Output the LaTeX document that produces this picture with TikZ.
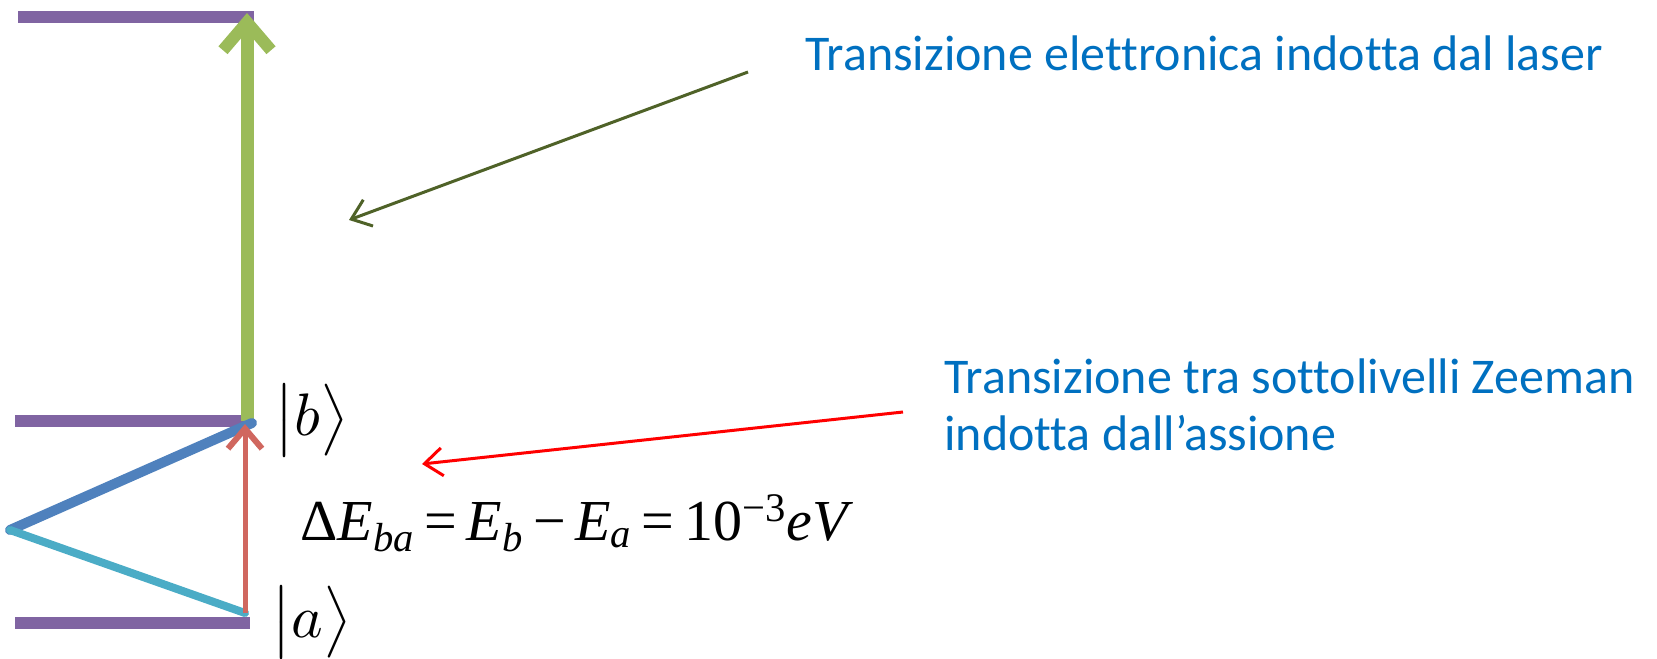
\documentclass[tikz,border=0pt]{standalone}
\usepackage{fontspec}
\usepackage{graphicx}
\setmainfont{Carlito}[Ligatures=NoCommon]
\newfontfamily\tms{Liberation Serif}
\usetikzlibrary{arrows.meta}
\definecolor{lvl}{HTML}{8064A2}
\definecolor{grn}{HTML}{9BBB59}
\definecolor{blu}{HTML}{4F81BD}
\definecolor{cyn}{HTML}{4BACC6}
\definecolor{rda}{HTML}{D0675F}
\definecolor{olv}{HTML}{4F6228}
\definecolor{txtb}{HTML}{0070C0}
\newcommand{\bigket}[1]{\scalebox{3}{\fontsize{10}{12}\selectfont$\bigl\vert #1\bigr\rangle$}}
\tikzset{
  level/.style={draw=lvl, line width=6pt},
  lbl/.style={text=txtb, font=\fontsize{25}{28.5}\selectfont, inner sep=0pt, align=left},
  ket/.style={inner sep=0pt},
  pointer/.style={line width=1.5pt, -{Straight Barb[length=9pt,width=14pt,line width=1.5pt]}}
}
\begin{document}
\begin{tikzpicture}[x=0.5pt,y=-0.5pt]
\useasboundingbox (0,0) rectangle (1657,658);
% level coordinates
\coordinate (t0) at (18,17);  \coordinate (t1) at (254,17);
\coordinate (b0) at (15,421); \coordinate (b1) at (253,421);
\coordinate (a0) at (15,623); \coordinate (a1) at (250,623);
\coordinate (gb) at (247,421); \coordinate (gt) at (247,13);
\coordinate (v) at (10,530);
\coordinate (rb) at (245,613); \coordinate (rt) at (245,424);
\draw[level] (t0) -- (t1);
\draw[level] (b0) -- (b1);
\draw[level] (a0) -- (a1);
\draw[grn, line width=6.5pt, -{Straight Barb[length=14pt,width=24pt,line width=6pt]}] (gb) -- (gt);
\draw[blu, line width=5pt, line cap=round] (252,423) -- (v);
\draw[cyn, line width=4pt, line cap=round] (v) -- (rb);
\draw[rda, line width=2.5pt, -{Straight Barb[length=10pt,width=17pt,line width=3pt]}] (rb) -- (rt);
% kets
\node[ket, anchor=base west] (kb) at (274,435) {\bigket{b}};
\node[ket, anchor=base west] (ka) at (271,637) {\bigket{a}};
% equation
\node[anchor=base west, inner sep=0pt, font=\tms\fontsize{29}{34}\selectfont] (eq) at (300,540)
  {Δ\textit{E}\textsubscript{\textit{ba}}\,=\,\textit{E}\textsubscript{\textit{b}}\,−\,\textit{E}\textsubscript{\textit{a}}\,=\,10\textsuperscript{−3}\textit{eV}};
% labels
\node[lbl, anchor=west] (l1) at (805,53) {Transizione elettronica indotta dal laser};
\node[lbl, anchor=west] (l2) at (944,405) {Transizione tra sottolivelli Zeeman\\indotta dall’assione};
% pointers
\coordinate (p1) at (349,220);
\coordinate (p2) at (422,464);
\draw[olv, pointer] (l1.west) ++(-57,19) -- (p1);
\draw[red, pointer] (l2.west) ++(-41,7) -- (p2);
\end{tikzpicture}
\end{document}
